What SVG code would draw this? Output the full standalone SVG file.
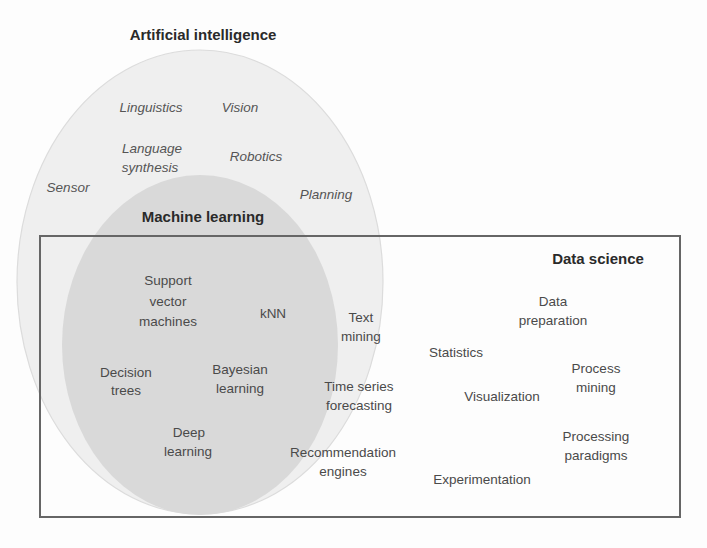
<svg xmlns="http://www.w3.org/2000/svg" width="707" height="548" viewBox="0 0 707 548">
<style>
.t{font-family:"Liberation Sans",Arial,sans-serif;font-size:13.5px;fill:#4a4a4a;text-anchor:middle}
.i{font-style:italic;fill:#555}
.h{font-family:"Liberation Sans",Arial,sans-serif;font-size:15px;font-weight:bold;fill:#2a2a2a;text-anchor:middle}
</style>
<rect x="0" y="0" width="707" height="548" fill="#fdfdfd"/>
<g id="ai">
<ellipse cx="200" cy="282" rx="183" ry="232" fill="#efefef" stroke="#dcdcdc" stroke-width="1.2"/>
<text class="h" x="203" y="40">Artificial intelligence</text>
</g>
<g id="ml">
<ellipse cx="200" cy="345" rx="138" ry="170" fill="#d9d9d9"/>
<text class="h" x="203" y="222">Machine learning</text>
</g>
<g id="ds">
<rect x="40" y="236" width="640" height="281" fill="none" stroke="#666" stroke-width="2"/>
<text class="h" x="598" y="264">Data science</text>
</g>
<g id="connectors"></g>
<g id="n-linguistics"><text class="t i" x="151" y="112">Linguistics</text></g>
<g id="n-vision"><text class="t i" x="240" y="112">Vision</text></g>
<g id="n-language"><text class="t i" x="152" y="153">Language</text><text class="t i" x="150" y="172">synthesis</text></g>
<g id="n-robotics"><text class="t i" x="256" y="161">Robotics</text></g>
<g id="n-sensor"><text class="t i" x="68" y="192">Sensor</text></g>
<g id="n-planning"><text class="t i" x="326" y="199">Planning</text></g>
<g id="n-svm"><text class="t" x="168" y="285">Support</text><text class="t" x="168" y="306">vector</text><text class="t" x="168" y="326">machines</text></g>
<g id="n-knn"><text class="t" x="273" y="318">kNN</text></g>
<g id="n-text"><text class="t" x="361" y="322">Text</text><text class="t" x="361" y="341">mining</text></g>
<g id="n-decision"><text class="t" x="126" y="377">Decision</text><text class="t" x="126" y="395">trees</text></g>
<g id="n-bayes"><text class="t" x="240" y="374">Bayesian</text><text class="t" x="240" y="393">learning</text></g>
<g id="n-time"><text class="t" x="359" y="391">Time series</text><text class="t" x="359" y="410">forecasting</text></g>
<g id="n-deep"><text class="t" x="189" y="437">Deep</text><text class="t" x="188" y="456">learning</text></g>
<g id="n-rec"><text class="t" x="343" y="457">Recommendation</text><text class="t" x="343" y="476">engines</text></g>
<g id="n-dataprep"><text class="t" x="553" y="306">Data</text><text class="t" x="553" y="325">preparation</text></g>
<g id="n-stats"><text class="t" x="456" y="357">Statistics</text></g>
<g id="n-process"><text class="t" x="596" y="373">Process</text><text class="t" x="596" y="392">mining</text></g>
<g id="n-vis"><text class="t" x="502" y="401">Visualization</text></g>
<g id="n-paradigms"><text class="t" x="596" y="441">Processing</text><text class="t" x="596" y="460">paradigms</text></g>
<g id="n-exp"><text class="t" x="482" y="484">Experimentation</text></g>
</svg>
